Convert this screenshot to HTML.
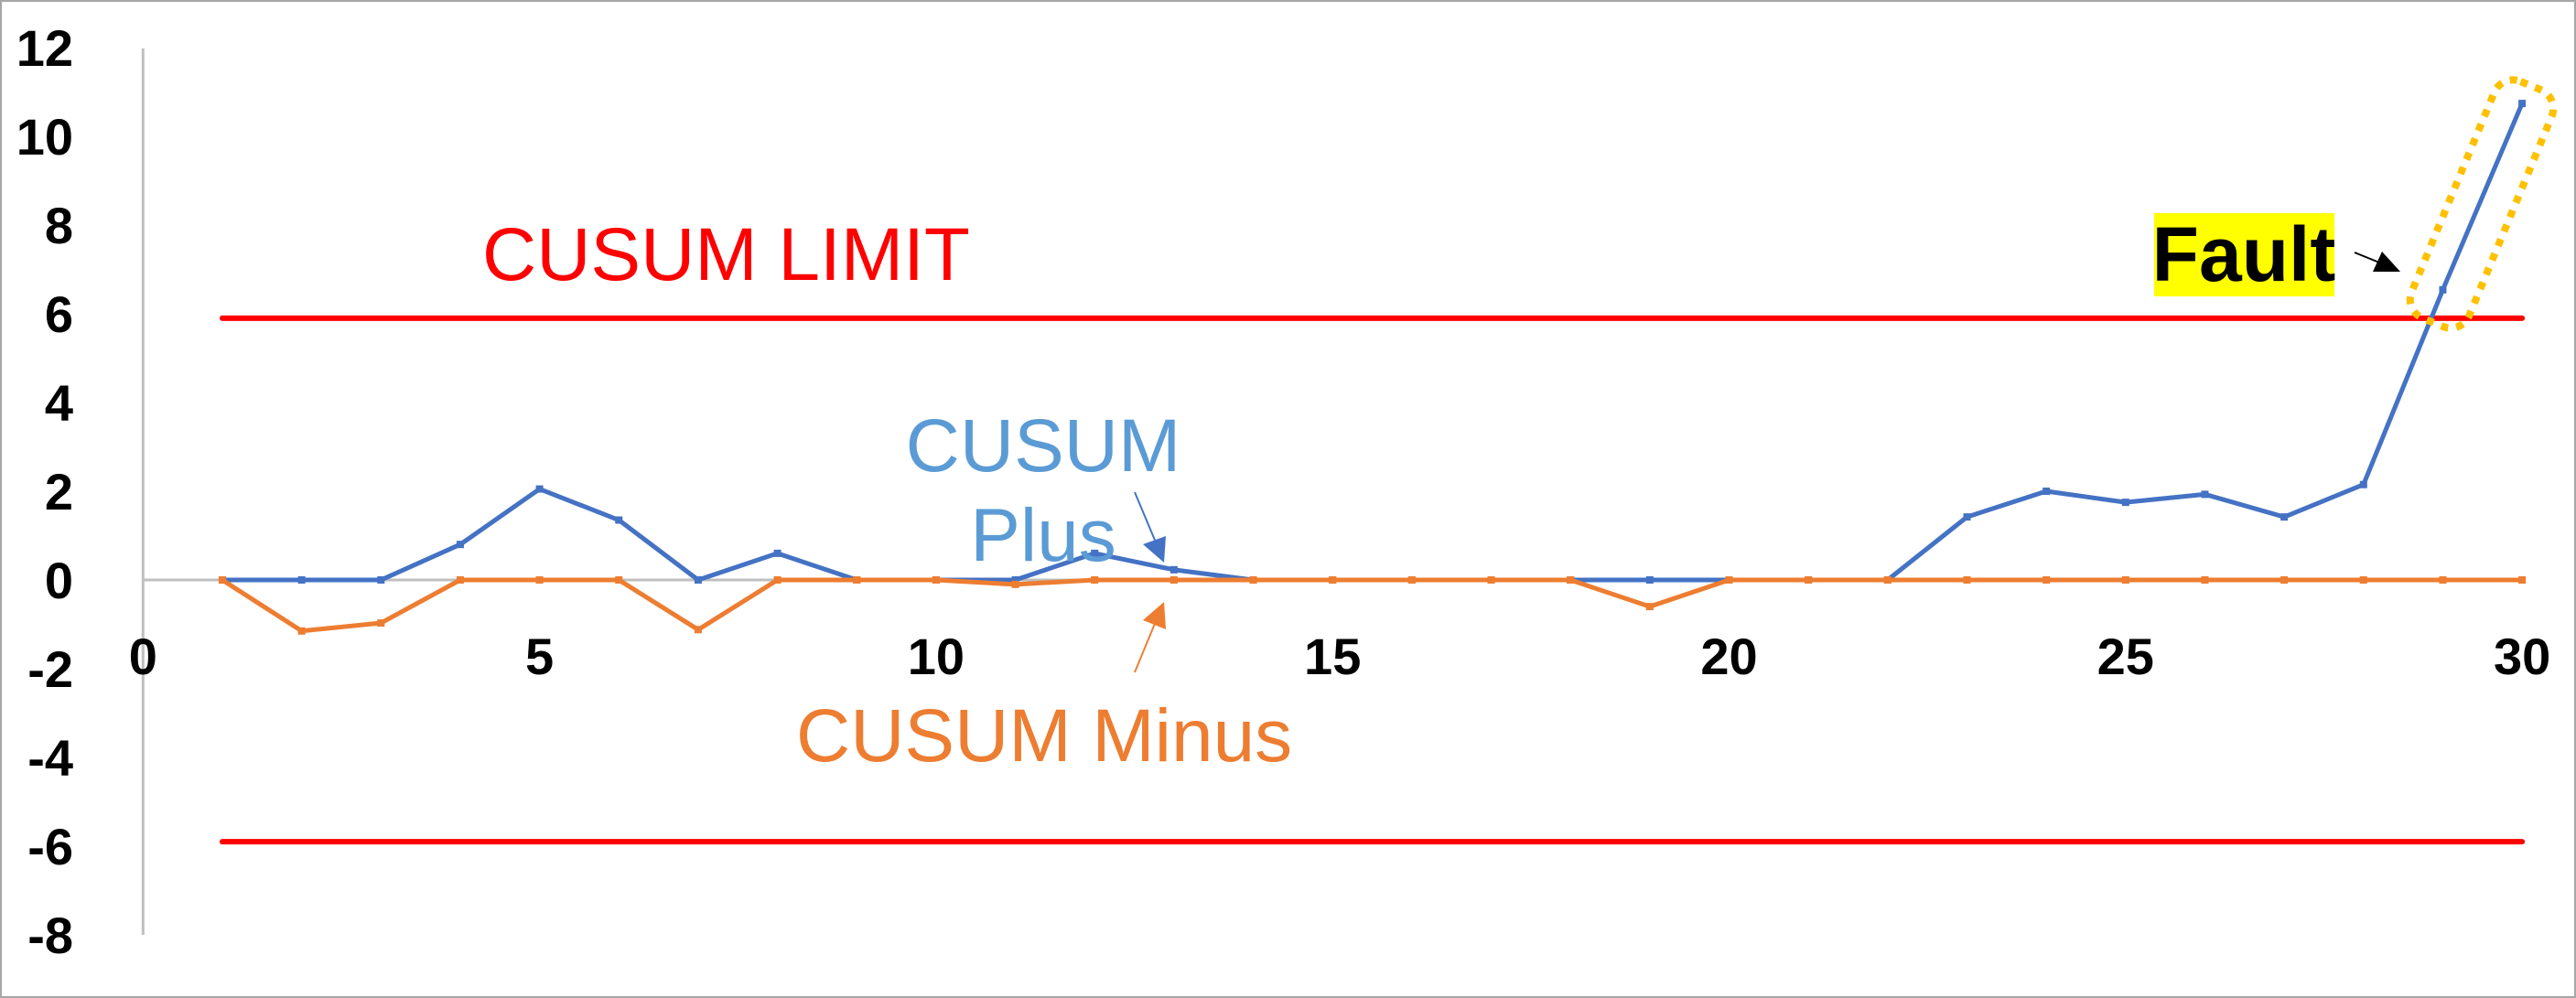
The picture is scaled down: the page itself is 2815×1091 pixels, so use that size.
<!DOCTYPE html>
<html><head><meta charset="utf-8"><style>
html,body{margin:0;padding:0;background:#fff}
svg{display:block}
text{font-family:"Liberation Sans",sans-serif}
</style></head><body>
<svg id="chart" width="2815" height="1091" viewBox="0 0 2815 1091" xmlns="http://www.w3.org/2000/svg">
<rect x="1" y="1" width="2813" height="1089" fill="#fff" stroke="#a6a6a6" stroke-width="2"/>
<g id="axes"></g>
<g id="limits"></g>
<g id="series"></g>
<g>
<text x="527" y="306" font-size="82" fill="#ff0000">CUSUM LIMIT</text>
<text x="1140" y="515" font-size="82" fill="#5b9bd5" text-anchor="middle">CUSUM</text>
<text x="1140" y="613" font-size="82" fill="#5b9bd5" text-anchor="middle">Plus</text>
<line x1="1240" y1="538" x2="1266" y2="600" stroke="#4472c4" stroke-width="2"/>
<polygon points="1272,615 1249,595 1274,586" fill="#4472c4"/>
<text x="870" y="832" font-size="82" fill="#ed7d31">CUSUM Minus</text>
<line x1="1240" y1="735" x2="1266" y2="672" stroke="#ed7d31" stroke-width="2"/>
<polygon points="1272,658 1249,678 1274,688" fill="#ed7d31"/>
<rect x="2354" y="233" width="197" height="91" fill="#ffff00"/>
<text x="2452" y="307" font-size="84" font-weight="bold" fill="#000" text-anchor="middle">Fault</text>
<line x1="2573" y1="276" x2="2610" y2="291" stroke="#000" stroke-width="2"/>
<polygon points="2623,297 2593,297 2603,275" fill="#000"/>
<rect x="-34" y="-140" width="68" height="280" rx="22" transform="translate(2712,223) rotate(22.5)" fill="none" stroke="#ffc000" stroke-width="8" stroke-dasharray="8 9"/>
</g>
</svg>
<script>
const xCategories = [1,2,3,4,5,6,7,8,9,10,11,12,13,14,15,16,17,18,19,20,21,22,23,24,25,26,27,28,29,30];
const plusValues = [0,0,0,0.8,2.05,1.35,0,0.6,0,0,0,0.6,0.23,0,0,0,0,0,0,0,0,0,1.42,2.0,1.75,1.93,1.42,2.15,6.54,10.74];
const minusValues = [0,-1.15,-0.97,0,0,0,-1.12,0,0,0,-0.1,0,0,0,0,0,0,0,-0.6,0,0,0,0,0,0,0,0,0,0,0];
const yTicks = [12,10,8,6,4,2,0,-2,-4,-6,-8];
const xTicks = [0,5,10,15,20,25,30];
const limitValues = [5.9,-5.9];

const NS = "http://www.w3.org/2000/svg";
const X = v => 156.3 + v * 86.66;
const Y = v => 634 - v * 48.5;
function mk(tag, attrs, parent){const e=document.createElementNS(NS,tag);for(const k in attrs)e.setAttribute(k,attrs[k]);parent.appendChild(e);return e;}
const axes=document.getElementById('axes'), limits=document.getElementById('limits'), series=document.getElementById('series');

let yAxis = mk('line',{x1:X(0),x2:X(0),y1:Y(12)+1,y2:Y(-8),stroke:'#bfbfbf','stroke-width':3},axes);


let xAxis = mk('line',{x1:X(0),x2:X(30),y1:Y(0),y2:Y(0),stroke:'#bfbfbf','stroke-width':3},axes);



yTicks.forEach(t=>{
  const e=mk('text',{x:80,y:Y(t)+20,'font-size':56,'font-weight':'bold','text-anchor':'end',fill:'#000'},axes);
  e.textContent=t;
  
  
});
xTicks.forEach(t=>{
  const e=mk('text',{x:X(t),y:737,'font-size':56,'font-weight':'bold','text-anchor':'middle',fill:'#000'},axes);
  e.textContent=t;
  
  
});

limitValues.forEach(v=>{
  const e=mk('line',{x1:X(xCategories[0]),x2:X(xCategories[xCategories.length-1]),y1:Y(v),y2:Y(v),stroke:'#ff0000','stroke-width':6,'stroke-linecap':'round'},limits);
  
  
});

function drawSeries(vals,color,name){
  const pts=vals.map((v,i)=>X(xCategories[i])+','+Y(v)).join(' ');
  const pl=mk('polyline',{points:pts,fill:'none',stroke:color,'stroke-width':5,'stroke-linejoin':'round'},series);
  
  
  vals.forEach((v,i)=>{
    const m=mk('rect',{x:X(xCategories[i])-4,y:Y(v)-4,width:8,height:8,fill:color},series);
    
    
  });
}
drawSeries(plusValues,'#4472c4','cusum-plus');
drawSeries(minusValues,'#ed7d31','cusum-minus');
</script>
</body></html>
